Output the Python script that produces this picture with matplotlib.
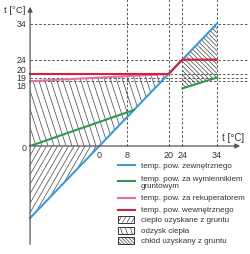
import numpy as np
import matplotlib
matplotlib.use("Agg")
import matplotlib.pyplot as plt
from matplotlib.collections import LineCollection
from matplotlib.patches import Rectangle

plt.rcParams['font.family'] = ['Liberation Sans', 'DejaVu Sans']

# --- dane ---
x_zew = [-20, 34]
t_zew = [-20, 34]
x_grunt1 = [-20, 10]
t_grunt1 = [0, 10]
x_grunt2 = [24, 34]
t_grunt2 = [16, 19]
x_rek = [-20, 20]
t_rek = [18, 20]
x_wew = [-20, 20, 24, 34]
t_wew = [20, 20, 24, 24]

yticks = [34, 24, 20, 19, 18, 0]
xticks = [0, 8, 20, 24, 34]
etykiety = ["temp. pow. zewnętrznego",
            "temp. pow. za wymiennikiem\ngruntowym",
            "temp. pow. za rekuperatorem",
            "temp. pow. wewnętrznego",
            "ciepło uzyskane z gruntu",
            "odzysk ciepła",
            "chłód uzyskany z gruntu"]

C_ZEW = "#3d9bd6"
C_GRUNT = "#2f9a4c"
C_REK = "#e7709f"
C_WEW = "#d4213f"
C_OS = "#555555"
C_TXT = "#333333"

# skala: piksele na jednostke
SX = 3.4615
SY = 3.6
X0_PX = 99.3
Y0_PX = 147.0


def px2x(p):
    return (p - X0_PX) / SX


def px2y(p):
    return (Y0_PX - p) / SY


def kreskuj(ax, path, kat, krok, lw=0.5, kolor="#444444"):
    """Kreskowanie pod dowolnym katem, przyciete do sciezki (dane)."""
    v = path.vertices
    x0, x1 = v[:, 0].min(), v[:, 0].max()
    y0, y1 = v[:, 1].min(), v[:, 1].max()
    m = np.tan(np.radians(kat)) * SX / SY
    dx = (y1 - y0) / m
    cs = np.arange(x0 - max(dx, 0), x1 - min(dx, 0), krok / SX)
    segs = [[(c, y0), (c + dx, y1)] for c in cs]
    lc = LineCollection(segs, colors=kolor, linewidths=lw, zorder=2)
    lc.set_clip_path(path, ax.transData)
    ax.add_collection(lc)


fig = plt.figure(figsize=(2.5, 2.55), dpi=100)
ax = fig.add_axes([0, 0, 1, 1])
ax.set_xlim(px2x(0), px2x(250))
ax.set_ylim(px2y(255), px2y(0))
ax.axis("off")

# linie pomocnicze
for t in yticks[:-1]:
    ax.plot([-20, px2x(247)], [t, t], color=C_OS, lw=0.7, dashes=(2.5, 2), zorder=1)
for x in xticks[1:]:
    ax.plot([x, x], [0, px2y(0)], color=C_OS, lw=0.7, dashes=(2.5, 2), zorder=1)

# obszary kreskowane
xs = np.array([-20, 0, 20])
gora = np.interp(xs, x_rek, t_rek)
dol = np.maximum(np.interp(xs, x_zew, t_zew), 0)
p = ax.fill_between(xs, dol, gora, facecolor="none", edgecolor="none")
kreskuj(ax, p.get_paths()[0], -72, 6)

xs2 = np.array([-20, 0])
p = ax.fill_between(xs2, np.interp(xs2, x_zew, t_zew), 0, facecolor="none", edgecolor="none")
kreskuj(ax, p.get_paths()[0], 60, 5.5)

xs3 = np.array(x_grunt2)
p = ax.fill_between(xs3, t_grunt2, np.interp(xs3, x_zew, t_zew), facecolor="none", edgecolor="none")
kreskuj(ax, p.get_paths()[0], -45, 4.5)

# osie
ax.annotate("", xy=(px2x(243), 0), xytext=(-20, 0),
            arrowprops=dict(arrowstyle="-|>", color=C_OS, lw=0.9, mutation_scale=7), zorder=5)
ax.annotate("", xy=(-20, px2y(5)), xytext=(-20, px2y(248)),
            arrowprops=dict(arrowstyle="-|>", color=C_OS, lw=0.9, mutation_scale=7), zorder=5)
ax.text(px2x(25), px2y(10), "t [°C]", fontsize=6.8, ha="right", va="center", color=C_TXT)
ax.text(px2x(222), px2y(138), "t [°C]", fontsize=7, ha="left", va="center", color=C_TXT)

# etykiety osi
przes = {34: 0, 24: 0, 20: 3.4, 19: 0.2, 18: -3.0, 0: -1.4}
for t in yticks:
    ax.annotate(str(t), xy=(px2x(26), t), xytext=(0, przes[t]), textcoords="offset points",
                fontsize=6.3, ha="right", va="center", color=C_TXT)
for x in xticks:
    ax.annotate(str(x), xy=(x, 0), xytext=(0, -5.8), textcoords="offset points",
                fontsize=6.5, ha="center", va="center", color=C_TXT)

# linie temperatur
ax.plot(x_zew, t_zew, color=C_ZEW, lw=1.5, zorder=3)
ax.plot(x_rek, t_rek, color=C_REK, lw=1.5, zorder=3)
ax.plot(x_grunt1, t_grunt1, color=C_GRUNT, lw=1.5, zorder=4)
ax.plot(x_grunt2, t_grunt2, color=C_GRUNT, lw=1.5, zorder=4)
ax.plot(x_wew, t_wew, color=C_WEW, lw=1.5, zorder=4)

# legenda
wiersze = [166, 181.5, 199, 210.7, 220, 231.7, 241.7]
kolory = [C_ZEW, C_GRUNT, C_REK, C_WEW]
for i, yp in enumerate(wiersze):
    y = px2y(yp)
    if i < 4:
        ax.plot([px2x(118), px2x(135)], [y, y], color=kolory[i], lw=1.5)
    else:
        r = Rectangle((px2x(117.5), px2y(yp + 3.5)), 16.5 / SX, 7 / SY,
                      facecolor="none", edgecolor=C_TXT, lw=0.7)
        ax.add_patch(r)
        kat, krok = [(60, 4.5), (-72, 5), (-45, 3.5)][i - 4]
        kreskuj(ax, r.get_path().transformed(r.get_patch_transform()), kat, krok)
    if i == 1:
        l1, l2 = etykiety[i].split("\n")
        ax.text(px2x(141), px2y(179.5), l1, fontsize=5.8, va="center", color=C_TXT)
        ax.text(px2x(141), px2y(187), l2, fontsize=5.8, va="center", color=C_TXT)
    else:
        ax.text(px2x(141), y, etykiety[i], fontsize=5.8, va="center", color=C_TXT)

fig.savefig("out.png", dpi=100)
